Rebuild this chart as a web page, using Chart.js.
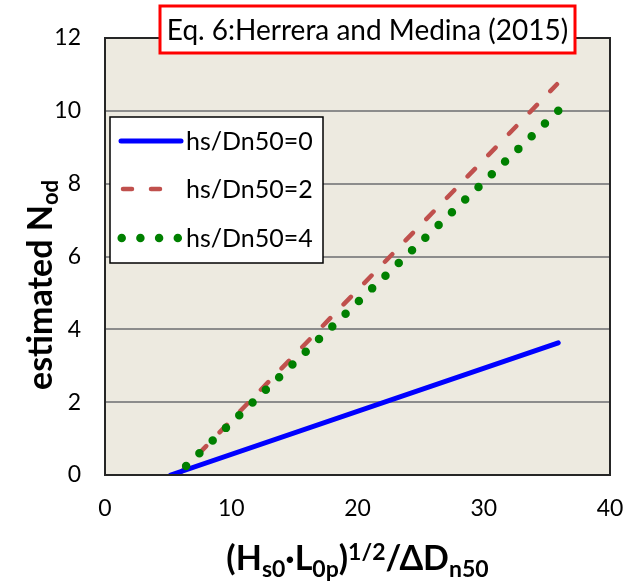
<!DOCTYPE html>
<html>
<head>
<meta charset="utf-8">
<script src="https://cdn.jsdelivr.net/npm/chart.js@4/dist/chart.umd.min.js"></script>
<style>
  html, body { margin: 0; padding: 0; background: #ffffff; }
  #wrap { width: 638px; height: 582px; position: relative; }
</style>
</head>
<body>
<div id="wrap"><canvas id="c" width="638" height="582"></canvas></div>
<script>
// ---- data ----
const chartTitle = 'Eq. 6:Herrera and Medina (2015)';
const seriesLabels = ['hs/Dn50=0', 'hs/Dn50=2', 'hs/Dn50=4'];
// each series is a straight line (start, end); hs/Dn50=4 is listed end-to-start so its dots begin at the upper end
const xHs0 = [5.2, 35.9];
const yHs0 = [0, 3.63];
const xHs2 = [5.8, 35.8];
const yHs2 = [0, 10.73];
const xHs4 = [35.9, 5.67];
const yHs4 = [10.0, 0];
const xTicks = [0, 10, 20, 30, 40];
const yTicks = [0, 2, 4, 6, 8, 10, 12];

const FONT = 'Lato, "Open Sans", sans-serif';
const toPts = (xs, ys) => xs.map((x, i) => ({ x: x, y: ys[i] }));

const bgPlugin = {
  id: 'plotBg',
  beforeDraw(chart) {
    const { ctx, chartArea: a } = chart;
    ctx.save();
    ctx.fillStyle = '#EDEAE0';
    ctx.fillRect(a.left, a.top, a.right - a.left, a.bottom - a.top);
    ctx.restore();
  },
  afterDatasetsDraw(chart) {
    const { ctx, chartArea: a } = chart;
    ctx.save();
    ctx.strokeStyle = '#262626';
    ctx.lineWidth = 2;
    ctx.strokeRect(a.left, a.top, a.right - a.left, a.bottom - a.top);
    ctx.restore();
  }
};

const decoPlugin = {
  id: 'deco',
  afterDraw(chart) {
    const { ctx, chartArea: a } = chart;
    ctx.save();
    // title box
    const bx = 160, by = 6, bw = 415, bh = 47;
    ctx.fillStyle = '#ffffff';
    ctx.fillRect(bx, by, bw, bh);
    ctx.strokeStyle = '#FF0000';
    ctx.lineWidth = 3;
    ctx.strokeRect(bx, by, bw, bh);
    ctx.fillStyle = '#000000';
    ctx.font = '28px ' + FONT;
    ctx.textAlign = 'center';
    ctx.textBaseline = 'middle';
    ctx.fillText(chartTitle, bx + bw / 2, by + bh / 2 + 1);

    // legend
    const lx = 110, ly = 117, lw = 213, lh = 146;
    ctx.fillStyle = '#ffffff';
    ctx.fillRect(lx, ly, lw, lh);
    ctx.strokeStyle = '#000000';
    ctx.lineWidth = 1.5;
    ctx.strokeRect(lx, ly, lw, lh);
    const rows = [141, 189, 238];
    chart.data.datasets.forEach((ds, i) => {
      const y = rows[i];
      ctx.save();
      ctx.strokeStyle = ds.borderColor;
      ctx.lineWidth = ds.borderWidth;
      ctx.lineCap = ds.borderCapStyle || 'butt';
      ctx.setLineDash(ds.legendDash || []);
      ctx.beginPath();
      ctx.moveTo(ds.legendStart, y);
      ctx.lineTo(ds.legendEnd, y);
      ctx.stroke();
      ctx.restore();
      ctx.fillStyle = '#000000';
      ctx.font = '25px ' + FONT;
      ctx.textAlign = 'left';
      ctx.textBaseline = 'middle';
      ctx.fillText(ds.label, 186, y + 1);
    });

    // y axis title (rotated) with subscript
    ctx.save();
    ctx.translate(40, 285);
    ctx.rotate(-Math.PI / 2);
    ctx.textBaseline = 'alphabetic';
    const mainY = 'estimated N';
    const subY = 'od';
    ctx.font = 'bold 34px ' + FONT;
    const w1 = ctx.measureText(mainY).width;
    ctx.font = 'bold 22px ' + FONT;
    const w2 = ctx.measureText(subY).width;
    let sx = -(w1 + w2) / 2;
    ctx.fillStyle = '#000000';
    ctx.textAlign = 'left';
    ctx.font = 'bold 34px ' + FONT;
    ctx.fillText(mainY, sx, 12);
    ctx.font = 'bold 22px ' + FONT;
    ctx.fillText(subY, sx + w1, 18);
    ctx.restore();

    // x axis title with sub/superscripts
    const parts = [
      { t: '(H', s: 'n' }, { t: 's0', s: 'sub' }, { t: '\u00B7L', s: 'n' }, { t: '0p', s: 'sub' },
      { t: ')', s: 'n' }, { t: '1/2', s: 'sup' }, { t: '/\u0394D', s: 'n' }, { t: 'n50', s: 'sub' }
    ];
    const fontFor = p => (p.s === 'n' ? 'bold 34px ' : 'bold 23px ') + FONT;
    let total = 0;
    parts.forEach(p => { ctx.font = fontFor(p); p.w = ctx.measureText(p.t).width; total += p.w; });
    let px = (a.left + a.right) / 2 - total / 2;
    const base = 570;
    ctx.textAlign = 'left';
    ctx.textBaseline = 'alphabetic';
    ctx.fillStyle = '#000000';
    parts.forEach(p => {
      ctx.font = fontFor(p);
      const dy = p.s === 'sub' ? 7 : (p.s === 'sup' ? -10 : 0);
      ctx.fillText(p.t, px, base + dy);
      px += p.w;
    });
    ctx.restore();
  }
};

new Chart(document.getElementById('c'), {
  type: 'line',
  data: {
    datasets: [
      {
        label: seriesLabels[0],
        data: toPts(xHs0, yHs0),
        borderColor: '#0000FF',
        borderWidth: 5,
        borderCapStyle: 'round',
        pointRadius: 0,
        order: 1,
        legendStart: 121, legendEnd: 181
      },
      {
        label: seriesLabels[1],
        data: toPts(xHs2, yHs2),
        borderColor: '#C0504D',
        borderWidth: 4.5,
        borderCapStyle: 'round',
        borderDash: [10.5, 19.2],
        pointRadius: 0,
        order: 2,
        legendStart: 123, legendEnd: 166, legendDash: [9, 19]
      },
      {
        label: seriesLabels[2],
        data: toPts(xHs4, yHs4),
        borderColor: '#008000',
        borderWidth: 8.5,
        borderCapStyle: 'round',
        borderDash: [0, 18.37],
        pointRadius: 0,
        order: 0,
        legendStart: 121.7, legendEnd: 179, legendDash: [0, 18.7]
      }
    ]
  },
  options: {
    responsive: false,
    animation: false,
    layout: { padding: { top: 38, right: 28, left: 0, bottom: 0 } },
    plugins: { legend: { display: false }, tooltip: { enabled: false }, title: { display: false } },
    elements: { line: { tension: 0 } },
    scales: {
      x: {
        type: 'linear', min: 0, max: 40,
        afterFit(s) { s.height = 107; s.paddingLeft = 0; s.paddingRight = 0; },
        afterBuildTicks(s) { s.ticks = xTicks.map(v => ({ value: v })); },
        grid: { display: false, drawTicks: false },
        border: { display: false },
        ticks: { color: '#000000', font: { family: FONT, size: 23 }, padding: 20, maxRotation: 0 }
      },
      y: {
        type: 'linear', min: 0, max: 12,
        afterFit(s) { s.width = 105; s.paddingTop = 0; s.paddingBottom = 0; },
        afterBuildTicks(s) { s.ticks = yTicks.map(v => ({ value: v })); },
        grid: { color: '#8C8C8C', lineWidth: 2, drawTicks: false },
        border: { display: false },
        ticks: { color: '#000000', font: { family: FONT, size: 23 }, padding: 24 }
      }
    }
  },
  plugins: [bgPlugin, decoPlugin]
});
</script>
</body>
</html>
